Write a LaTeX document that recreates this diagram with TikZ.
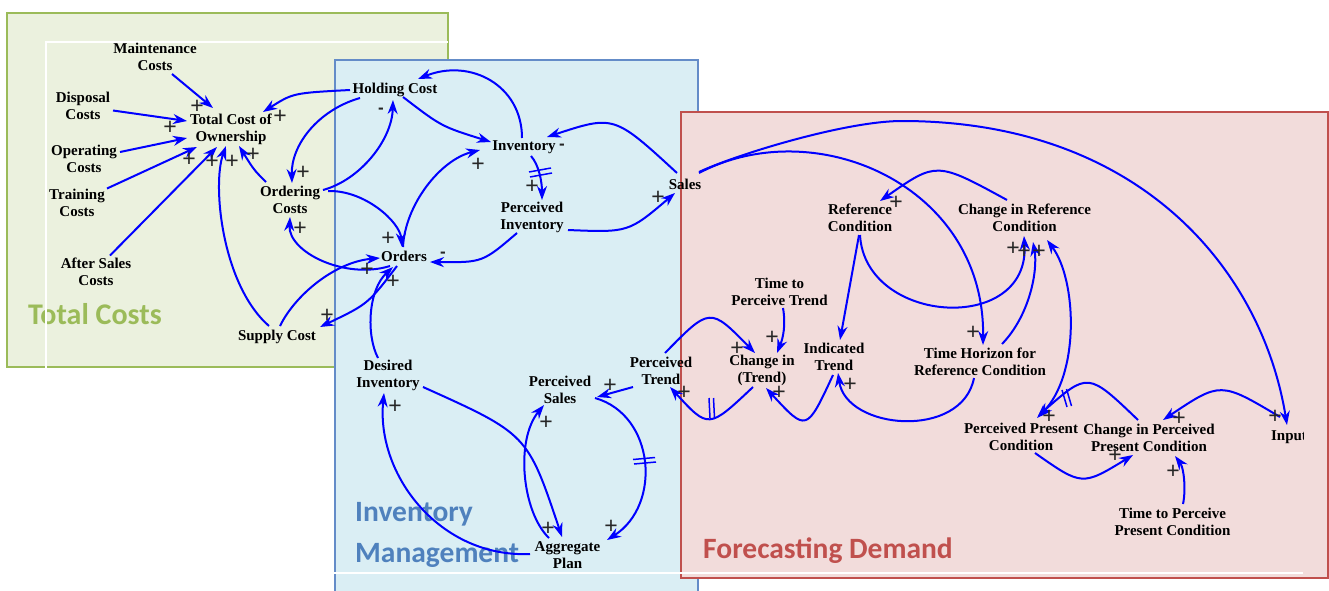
\documentclass[tikz,border=0pt]{standalone}
\usepackage{fontspec}
\setmainfont{Liberation Serif}
\newfontfamily\boxfont{Carlito}
\newfontfamily\polfont{Liberation Sans}
\usetikzlibrary{arrows.meta,calc}
\definecolor{vblue}{RGB}{0,0,255}
\definecolor{gfill}{RGB}{235,241,222}
\definecolor{gline}{RGB}{155,187,89}
\definecolor{bfill}{RGB}{218,238,244}
\definecolor{bline}{RGB}{100,140,200}
\definecolor{btext}{RGB}{79,129,189}
\definecolor{rfill}{RGB}{242,220,219}
\definecolor{rline}{RGB}{192,80,77}
\begin{document}
\begin{tikzpicture}[x=1pt,y=-1pt,
 var/.style={font=\fontsize{15}{17}\selectfont\bfseries, align=center, inner sep=0pt, text=black},
 link/.style={draw=vblue, line width=2pt, -{Stealth[length=14pt,width=10pt]}},
 linkboth/.style={draw=vblue, line width=2pt, {Stealth[length=14pt,width=10pt]}-{Stealth[length=14pt,width=10pt]}},
 pol/.style={font=\polfont\fontsize{23}{23}\selectfont, inner sep=0pt, text=black!85},
 neg/.style={font=\polfont\bfseries\fontsize{17}{17}\selectfont, inner sep=0pt, text=black!85},
 delaymark/.style={draw=vblue, line width=1.5pt},
 groupbox/.style={line width=1.6pt},
 grouplabel/.style={font=\boxfont\bfseries\fontsize{29.5}{41}\selectfont, inner sep=0pt, align=left}]

\useasboundingbox (0,0) rectangle (1329,590);
\fill[white] (0,0) rectangle (1329,590);

% group boxes
\draw[groupbox, draw=gline, fill=gfill] (7,13) rectangle (448,367);
\draw[groupbox, draw=bline, fill=bfill] (335,60) rectangle (698,600);
\draw[groupbox, draw=rline, fill=rfill] (681,112) rectangle (1328,578);

\node[grouplabel, text=gline, anchor=west, font=\boxfont\bfseries\fontsize{30}{41}\selectfont] (tcl) at (28,314) {Total Costs};
\node[grouplabel, text=btext, anchor=west] (iml) at (355,535) {Inventory\\Management};
\node[grouplabel, text=rline, anchor=west] (fdl) at (703,551) {Forecasting Demand};

% white frame lines
\draw[white, line width=2pt] (448,41.5) -- (45.5,41.5) -- (45.5,573) -- (1303,573);

% variables
\node[var] (mc) at (155,57) {Maintenance\\Costs};
\node[var] (dc) at (83,105.5) {Disposal\\Costs};
\node[var] (tco) at (231,129) {Total Cost of\\Ownership};
\node[var] (oc) at (84,159) {Operating\\Costs};
\node[var] (trc) at (77,202.5) {Training\\Costs};
\node[var] (asc) at (96,271.5) {After Sales\\Costs};
\node[var] (hc) at (395,90) {Holding Cost};
\node[var] (ordc) at (290,200) {Ordering\\Costs};
\node[var] (sc) at (277,337) {Supply Cost};
\node[var] (ord) at (404,256) {Orders};
\node[var] (inv) at (524,147) {Inventory};
\node[var] (pinv) at (532,217.5) {Perceived\\Inventory};
\node[var] (sales) at (685,184) {Sales};
\node[var] (dinv) at (388,375.5) {Desired\\Inventory};
\node[var] (psales) at (560,389.5) {Perceived\\Sales};
\node[var] (ptrend) at (661,370.5) {Perceived\\Trend};
\node[var] (agg) at (567.5,555.5) {Aggregate\\Plan};
\node[var] (refc) at (860,218) {Reference\\Condition};
\node[var] (crc) at (1024.5,218) {Change in Reference\\Condition};
\node[var] (tpt) at (779.5,291.5) {Time to\\Perceive Trend};
\node[var] (cit) at (762,370.5) {Change in\\(Trend)};
\node[var] (itr) at (834,357) {Indicated\\Trend};
\node[var] (thr) at (980,361.5) {Time Horizon for\\Reference Condition};
\node[var] (ppc) at (1021,437) {Perceived Present\\Condition};
\node[var] (cppc) at (1149,438) {Change in Perceived\\Present Condition};
\begin{scope}
\clip (0,0) rectangle (1303,590);
\node[var] (inp) at (1289,437) {Input};
\end{scope}
\node[var] (tppc) at (1172.5,521.5) {Time to Perceive\\Present Condition};

% links: total costs
\draw[link] ($(mc)+(17,17)$) -- ($(tco)+(-18,-21)$);
\draw[link] ($(dc)+(30,5)$) -- ($(tco)+(-44,-8)$);
\draw[link] ($(oc)+(36,-7)$) -- ($(tco)+(-44,9)$);
\draw[link] ($(trc)+(30,-14)$) -- ($(tco)+(-34,18)$);
\draw[link] ($(asc)+(14,-16)$) -- ($(tco)+(-14,18)$);
\draw[link] ($(sc)+(-8,-11)$) .. controls (222,285) and (212,185) .. ($(tco)+(-5,17)$);
\draw[link] ($(ordc)+(-24,-18)$) .. controls (254,170) .. ($(tco)+(8,17)$);
\draw[link] ($(hc)+(-45,0)$) .. controls (293,93) .. ($(tco)+(32,-17)$);

% links: holding / ordering / orders
\draw[link] ($(hc)+(-35,8)$) .. controls (318,110) and (291,145) .. ($(ordc)+(2,-17)$);
\draw[link] ($(ordc)+(33,-10)$) .. controls (360,180) and (392,140) .. ($(hc)+(-2,10)$);
\draw[link] ($(ordc)+(38,-9)$) .. controls (365,190) and (400,222) .. ($(ord)+(-2,-9)$);
\draw[link] ($(ord)+(-14,10)$) .. controls (345,280) and (288,252) .. ($(ordc)+(0,17)$);
\draw[link] ($(sc)+(3,-11)$) .. controls (295,295) and (335,262) .. ($(ord)+(-24,2)$);
\draw[link] ($(ord)+(-7,10)$) .. controls (368,304) .. ($(sc)+(43,-10)$);
\draw[link] ($(dinv)+(-10,-17.5)$) .. controls (366,335) and (368,290) .. ($(ord)+(-11,11)$);

% inventory loop
\draw[link] ($(hc)+(8,7)$) .. controls (441.5,126.5) .. ($(inv)+(-33,-5)$);
\draw[link] ($(inv)+(-2,-9)$) .. controls (522,85) and (470,58) .. ($(hc)+(23,-11)$);
\draw[link] ($(ord)+(-1,-9)$) .. controls (405,205) and (440,160) .. ($(inv)+(-44,3)$);
\draw[link] ($(inv)+(7,9)$) .. controls (539,165) and (542,182) .. ($(pinv)+(10,-17.5)$);
\draw[link] ($(pinv)+(-15,15.5)$) .. controls (482.5,262.5) .. ($(ord)+(26,6)$);
\draw[link] ($(pinv)+(36,12.5)$) .. controls (628.5,232.5) .. ($(sales)+(-10,9)$);
\draw[link] ($(sales)+(-8,-11)$) .. controls (614,115) .. ($(inv)+(23,-10)$);

% sales outputs
\draw[link] ($(sales)+(14,-11)$) .. controls (815,112) and (985,185) .. ($(thr)+(3,-16.5)$);
\draw[link] ($(sales)+(14,-12)$) .. controls (735,155) and (845,121) .. (902,121) .. controls (1140,121) and (1262,270) .. ($(inp)+(-2,-12)$);

% reference condition
\draw[link] ($(crc)+(-17.5,-18)$) .. controls (936.5,161.5) .. ($(refc)+(20,-17)$);
\draw[link] ($(refc)+(-1,17)$) -- ($(itr)+(6,-17)$);
\draw[link] ($(refc)+(0,17)$) .. controls (865,325) and (1030,335) .. ($(crc)+(-0.5,18)$);
\draw[link] ($(thr)+(22,-17.5)$) .. controls (1030,315) and (1038,270) .. ($(crc)+(8.5,24)$);
\draw[linkboth] ($(ppc)+(16,-19)$) .. controls (1080,375) and (1077,280) .. ($(crc)+(22.5,22)$);

% present condition
\draw[link] ($(cppc)+(-11,-18)$) .. controls (1088,372) .. ($(ppc)+(17,-21)$);
\draw[link] ($(ppc)+(14,16)$) .. controls (1082,486) .. ($(cppc)+(-16,17)$);
\draw[link] ($(inp)+(-9,-20)$) .. controls (1220.5,381.5) .. ($(cppc)+(14,-18)$);
\draw[link] ($(tppc)+(10.5,-17.5)$) .. controls (1186,490) and (1184,468) .. ($(cppc)+(26,18)$);

% trend
\draw[link] ($(thr)+(-6,16.5)$) .. controls (962,440) and (846,430) .. ($(itr)+(4,16)$);
\draw[link] ($(tpt)+(3.5,16.5)$) .. controls (786,325) and (783,338) .. ($(cit)+(15,-17.5)$);
\draw[link] ($(ptrend)+(4,-17.5)$) .. controls (710,307) .. ($(cit)+(-7,-17.5)$);
\draw[link] ($(cit)+(-9,16.5)$) .. controls (708.5,429) .. ($(ptrend)+(9,16.5)$);
\draw[link] ($(itr)+(-1,18)$) .. controls (806.5,432) .. ($(cit)+(4,17.5)$);

% sales planning
\draw[link] ($(ptrend)+(-28,16.5)$) -- ($(psales)+(37,7.5)$);
\draw[link] ($(psales)+(35,8.5)$) .. controls (655,415) and (662,505) .. ($(agg)+(39.5,-15.5)$);
\draw[link] ($(agg)+(-18.5,-17.5)$) .. controls (522,512) and (515,440) .. ($(psales)+(-16,15.5)$);
\draw[link] ($(dinv)+(35,11.5)$) .. controls (527.5,434) .. ($(agg)+(-5.5,-18.5)$);
\draw[link] ($(agg)+(-37.5,-1.5)$) .. controls (440,558) and (376,475) .. ($(dinv)+(-4,17.5)$);

% delay marks
\draw[delaymark] (529,172) -- (551,168) (530,177) -- (552,173);
\draw[delaymark] (709,398) -- (710,418) (713.5,398) -- (714.5,418);
\draw[delaymark] (633,459.5) -- (655,457.5) (634,464) -- (656,462);
\draw[delaymark] (1062,390) -- (1067,407) (1066.5,389) -- (1071.5,406);

% polarities
\foreach \px/\py [count=\i] in {197/107,170/128,189/160,212/162,232/162,253/155,280/117,
  303/173,300/229,388/239,367/270,393/282,327/316,478/165,532/187,658/198,
  896/203,1013/249,1024/252,1039/252,973/333,1049/417,1115/456,1179/419,1275/417,
  1173/472,850/385,772/338,737/349,684/393,779/393,610/386,546/423,548/529,611/527,395/407}
  \node[pol] (plus\i) at (\px,\py) {+};
\foreach \px/\py [count=\i] in {381/111,443/255,562/147}
  \node[neg] (minus\i) at (\px,\py) {-};
\end{tikzpicture}
\end{document}
